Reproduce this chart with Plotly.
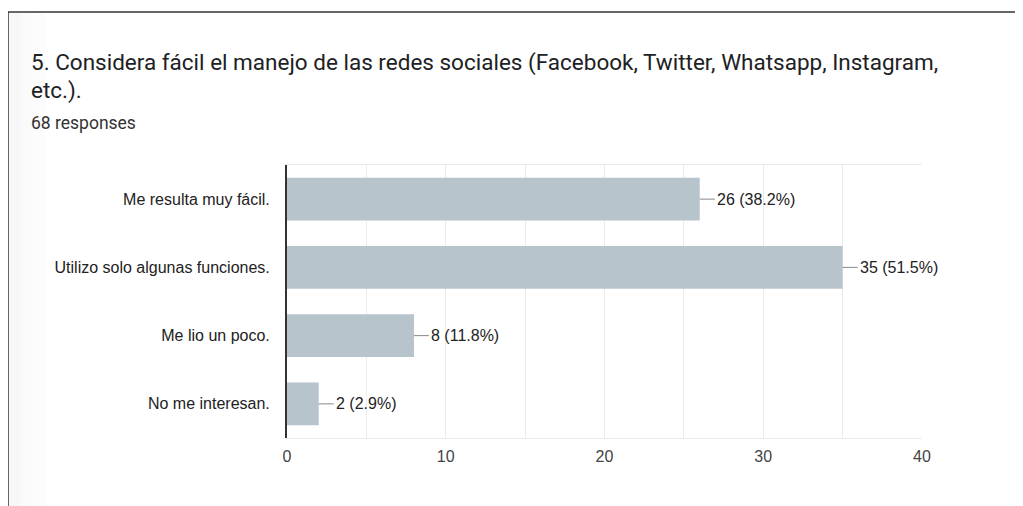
import plotly.graph_objects as go

# ── Données ───────────────────────────────────────────────────────────────────
categories = [
    "Me resulta muy fácil.",
    "Utilizo solo algunas funciones.",
    "Me lio un poco.",
    "No me interesan.",
]
counts = [26, 35, 8, 2]
percents = [38.2, 51.5, 11.8, 2.9]
x_ticks = [0, 10, 20, 30, 40]

TITLE_1 = "5. Considera fácil el manejo de las redes sociales (Facebook, Twitter, Whatsapp, Instagram,"
TITLE_2 = "etc.)."
SUBTITLE = "68 responses"

# ── Palette ───────────────────────────────────────────────────────────────────
BAR = "#b7c4cc"
GRID = "#ebebeb"
TEXT = "#222222"

# la page est décalée de 8 px (marge du body) : tout en coordonnées écran - 8
OFF = 8
W, H = 1023 - OFF, 506 - OFF
L, R, T, B = 287 - OFF, 922 - OFF, 165 - OFF, 438 - OFF


def px(x):
    return (x - OFF - L) / (R - L)


def py(y):
    return (B - (y - OFF)) / (B - T)


fig = go.Figure(go.Bar(
    x=counts,
    y=categories,
    orientation="h",
    marker=dict(color=BAR, line=dict(width=0)),
    width=0.63,
    hoverinfo="skip",
))

# étiquettes de valeur avec petit trait
for cat, n, p in zip(categories, counts, percents):
    fig.add_annotation(
        x=n, y=cat, xref="x", yref="y",
        text=f"{n} ({p}%)",
        showarrow=True, arrowhead=0, arrowwidth=1, arrowcolor="#888",
        ax=15, ay=0, xanchor="left", standoff=0, startstandoff=0,
        font=dict(family="Liberation Sans, Arial", size=16, color=TEXT),
    )

# titre
fig.add_annotation(
    text=TITLE_1, xref="paper", yref="paper", x=px(29), y=py(62),
    xanchor="left", yanchor="middle", showarrow=False,
    font=dict(family="Roboto", size=22.5, color="#202124"),
)
fig.add_annotation(
    text=TITLE_2, xref="paper", yref="paper", x=px(29), y=py(90),
    xanchor="left", yanchor="middle", showarrow=False,
    font=dict(family="Roboto", size=22.5, color="#202124"),
)
fig.add_annotation(
    text=SUBTITLE, xref="paper", yref="paper", x=px(29), y=py(123),
    xanchor="left", yanchor="middle", showarrow=False,
    font=dict(family="Roboto", size=17.5, color="#333333"),
)

# cadre de la page
for x0, x1, a in [(9, 20, 0.03), (20, 32, 0.02), (32, 45, 0.01)]:
    fig.add_shape(type="rect", xref="paper", yref="paper",
                  x0=px(x0), x1=px(x1), y0=py(506), y1=py(13),
                  fillcolor=f"rgba(0,0,0,{a})", line=dict(width=0), layer="below")
fig.add_shape(type="line", xref="paper", yref="paper",
              x0=px(8), x1=px(1023), y0=py(12), y1=py(12),
              line=dict(color="#333", width=1.5))
fig.add_shape(type="line", xref="paper", yref="paper",
              x0=px(8), x1=px(8), y0=py(12), y1=py(506),
              line=dict(color="#333", width=1.5))

fig.update_layout(
    width=W, height=H,
    margin=dict(l=L, r=W - R, t=T, b=H - B),
    paper_bgcolor="white",
    plot_bgcolor="white",
    showlegend=False,
    font=dict(family="Liberation Sans, Arial", size=16, color=TEXT),
)
fig.update_xaxes(
    range=[0, 40], tickvals=x_ticks,
    showgrid=True, gridcolor=GRID, gridwidth=1,
    minor=dict(dtick=5, showgrid=True, gridcolor=GRID),
    zeroline=False,
    showline=True, linecolor=GRID, linewidth=1, mirror=True,
    ticks="", ticklabelstandoff=4, tickfont=dict(color="#444", size=16),
)
fig.update_yaxes(
    autorange="reversed",
    showline=True, linecolor="#333", linewidth=2,
    ticks="", ticklabelstandoff=12,
    tickfont=dict(color=TEXT, size=16),
    showgrid=False, zeroline=False,
)

fig.write_html("out.html")
